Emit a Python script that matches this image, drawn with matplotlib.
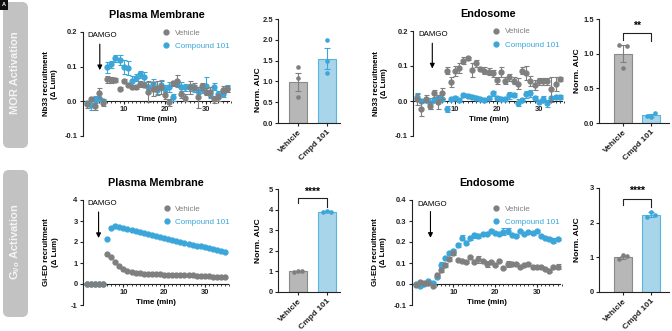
import matplotlib
matplotlib.use("Agg")
import matplotlib.pyplot as plt
from matplotlib.lines import Line2D
from matplotlib.patches import FancyBboxPatch, Rectangle
from matplotlib.ticker import FormatStrFormatter, MultipleLocator

plt.rcParams['font.family'] = ['Liberation Sans', 'DejaVu Sans']
plt.rcParams['axes.unicode_minus'] = False

# ---------------- data ----------------
time_min = list(range(1, 36))

nb33_pm_vehicle = [-0.008, 0.008, -0.014, 0.024, -0.004, 0.063, 0.061, 0.061, 0.037, 0.059,
                   0.046, 0.040, 0.040, 0.050, 0.046, 0.028, 0.035, 0.038, 0.040, 0.017,
                   -0.003, 0.052, 0.060, 0.021, 0.010, 0.040, 0.042, 0.012, 0.044, 0.028,
                   0.027, 0.006, 0.012, 0.033, 0.035]
nb33_pm_vehicle_err = [0.010, 0.005, 0.010, 0.015, 0.010, 0.010, 0.008, 0.005, 0.005, 0.005,
                       0.005, 0.005, 0.005, 0.008, 0.005, 0.030, 0.020, 0.020, 0.020, 0.010,
                       0.010, 0.008, 0.015, 0.010, 0.010, 0.020, 0.010, 0.030, 0.010, 0.010,
                       0.015, 0.010, 0.010, 0.010, 0.008]
nb33_pm_cmpd = [-0.006, -0.012, 0.006, 0.011, 0.000, 0.098, 0.107, 0.124, 0.120, 0.100,
                0.095, 0.058, 0.068, 0.078, 0.071, 0.040, 0.050, 0.032, 0.047, 0.037,
                0.042, 0.012, 0.050, 0.040, 0.040, 0.040, 0.038, 0.030, 0.035, 0.045,
                0.020, 0.042, 0.020, 0.022, 0.038]
nb33_pm_cmpd_err = [0.005, 0.012, 0.008, 0.010, 0.005, 0.015, 0.010, 0.010, 0.015, 0.020,
                    0.020, 0.015, 0.010, 0.010, 0.015, 0.015, 0.015, 0.010, 0.015, 0.010,
                    0.015, 0.010, 0.010, 0.015, 0.010, 0.010, 0.010, 0.010, 0.010, 0.025,
                    0.010, 0.010, 0.010, 0.010, 0.010]

nb33_endo_vehicle = [0.005, -0.023, 0.006, -0.014, 0.022, -0.002, 0.022, 0.086, 0.055, 0.086,
                     0.094, 0.115, 0.122, 0.090, 0.108, 0.091, 0.086, 0.083, 0.079, 0.060,
                     0.083, 0.058, 0.068, 0.058, 0.050, 0.086, 0.081, 0.057, 0.046, 0.057,
                     0.056, 0.057, 0.033, 0.048, 0.063]
nb33_endo_vehicle_err = [0.015, 0.020, 0.010, 0.010, 0.010, 0.020, 0.015, 0.010, 0.015, 0.015,
                         0.015, 0.010, 0.005, 0.020, 0.010, 0.005, 0.010, 0.010, 0.010, 0.010,
                         0.015, 0.010, 0.010, 0.010, 0.015, 0.010, 0.020, 0.015, 0.015, 0.010,
                         0.010, 0.010, 0.035, 0.020, 0.005]
nb33_endo_cmpd = [0.012, 0.000, 0.003, -0.007, 0.003, 0.010, 0.005, -0.022, 0.005, 0.010,
                  0.003, 0.017, 0.015, 0.011, 0.010, 0.005, 0.003, 0.010, 0.022, 0.008,
                  0.006, 0.005, 0.017, 0.017, -0.005, 0.003, 0.019, 0.022, 0.010, -0.002,
                  0.005, -0.007, 0.010, 0.012, 0.011]
nb33_endo_cmpd_err = [0.010, 0.005, 0.005, 0.015, 0.005, 0.005, 0.005, 0.008, 0.005, 0.005,
                      0.005, 0.005, 0.005, 0.005, 0.005, 0.005, 0.005, 0.005, 0.008, 0.005,
                      0.005, 0.005, 0.010, 0.005, 0.010, 0.005, 0.010, 0.010, 0.005, 0.005,
                      0.008, 0.010, 0.005, 0.005, 0.005]

gi_pm_vehicle = [0.0, 0.0, 0.0, 0.0, 0.0, 1.45, 1.29, 1.05, 0.84, 0.70,
                 0.63, 0.57, 0.54, 0.51, 0.49, 0.48, 0.47, 0.46, 0.46, 0.45,
                 0.44, 0.44, 0.43, 0.43, 0.42, 0.44, 0.41, 0.38, 0.37, 0.36,
                 0.36, 0.35, 0.35, 0.35, 0.34]
gi_pm_cmpd = [0.0, 0.0, 0.0, 0.0, 0.0, 2.13, 2.67, 2.75, 2.73, 2.68,
              2.63, 2.58, 2.53, 2.49, 2.44, 2.40, 2.35, 2.30, 2.25, 2.20,
              2.15, 2.11, 2.06, 2.01, 1.97, 1.92, 1.88, 1.83, 1.79, 1.75,
              1.70, 1.66, 1.62, 1.58, 1.53]

gi_endo_vehicle = [-0.006, 0.011, 0.003, 0.006, -0.008, 0.043, 0.067, 0.090, 0.119, 0.146,
                   0.114, 0.111, 0.103, 0.127, 0.106, 0.117, 0.111, 0.094, 0.106, 0.090,
                   0.110, 0.078, 0.095, 0.094, 0.095, 0.083, 0.090, 0.097, 0.079, 0.079,
                   0.083, 0.071, 0.062, 0.083, 0.083]
gi_endo_vehicle_err = [0.005, 0.005, 0.005, 0.005, 0.005, 0.008, 0.010, 0.008, 0.008, 0.010,
                       0.005, 0.005, 0.005, 0.008, 0.005, 0.015, 0.005, 0.015, 0.005, 0.005,
                       0.005, 0.005, 0.015, 0.005, 0.005, 0.005, 0.005, 0.005, 0.008, 0.005,
                       0.005, 0.005, 0.005, 0.005, 0.010]
gi_endo_cmpd = [0.000, -0.008, 0.000, 0.016, 0.003, 0.035, 0.090, 0.122, 0.146, 0.157,
                0.186, 0.221, 0.197, 0.219, 0.232, 0.229, 0.237, 0.237, 0.254, 0.244,
                0.237, 0.250, 0.252, 0.233, 0.230, 0.254, 0.237, 0.246, 0.241, 0.252,
                0.230, 0.217, 0.214, 0.205, 0.214]
gi_endo_cmpd_err = [0.005, 0.008, 0.005, 0.005, 0.005, 0.008, 0.015, 0.005, 0.008, 0.008,
                    0.008, 0.012, 0.008, 0.010, 0.012, 0.008, 0.005, 0.005, 0.008, 0.005,
                    0.005, 0.015, 0.015, 0.005, 0.005, 0.005, 0.005, 0.005, 0.008, 0.005,
                    0.005, 0.005, 0.008, 0.012, 0.005]

bar_labels = ['Vehicle', 'Cmpd 101']

auc_nb33_pm_mean = [0.99, 1.55]
auc_nb33_pm_sem = [0.22, 0.25]
auc_nb33_pm_veh_pts = [1.34, 1.07, 0.63]
auc_nb33_pm_cmpd_pts = [1.99, 1.50, 1.19]

auc_nb33_endo_mean = [1.00, 0.11]
auc_nb33_endo_sem = [0.12, 0.025]
auc_nb33_endo_veh_pts = [1.13, 1.11, 0.79]
auc_nb33_endo_cmpd_pts = [0.10, 0.14, 0.09]

auc_gi_pm_mean = [1.00, 3.90]
auc_gi_pm_sem = [0.02, 0.01]
auc_gi_pm_veh_pts = [0.97, 1.03, 1.00]
auc_gi_pm_cmpd_pts = [3.89, 3.90, 3.91]

auc_gi_endo_mean = [1.00, 2.23]
auc_gi_endo_sem = [0.05, 0.07]
auc_gi_endo_veh_pts = [0.95, 1.04, 1.07]
auc_gi_endo_cmpd_pts = [2.17, 2.22, 2.31]

# ---------------- style ----------------
GRAY = '#7f7f7f'
BLUE = '#3aa6da'
GRAY_BAR = '#b7b7b7'
GRAY_EDGE = '#8a8a8a'
BLUE_BAR = '#a8d5ea'
BLUE_EDGE = '#5ab4de'
AX_COL = '#222222'
TICK_FS = 5.4
LAB_FS = 5.7
MS = 3.5

W, H = 672, 331
fig = plt.figure(figsize=(W / 100, H / 100), dpi=100)


def px_axes(x0, x1, ytop, ybot):
    return fig.add_axes([x0 / W, 1 - ybot / H, (x1 - x0) / W, (ybot - ytop) / H])


def style_common(ax):
    for s in ['top', 'right']:
        ax.spines[s].set_visible(False)
    for s in ['left', 'bottom']:
        ax.spines[s].set_color(AX_COL)
        ax.spines[s].set_linewidth(0.8)
    ax.tick_params(axis='both', which='both', colors=AX_COL, width=0.8, labelsize=TICK_FS,
                   length=2.2, pad=1.5)
    for lab in ax.get_xticklabels() + ax.get_yticklabels():
        lab.set_fontweight('bold')


def time_panel(ax, veh, cmpd, veh_err, cmpd_err, ylim, yticks, fmt, ylabel, title,
               arrow, text_xy, leg_anchor, ylab_x):
    if cmpd_err is not None:
        ax.errorbar(time_min, cmpd, yerr=cmpd_err, fmt='o', ms=MS, color=BLUE,
                    ecolor=BLUE, elinewidth=0.8, capsize=1.8, capthick=0.8, zorder=3)
        ax.errorbar(time_min, veh, yerr=veh_err, fmt='o', ms=MS, color=GRAY,
                    ecolor=GRAY, elinewidth=0.8, capsize=1.8, capthick=0.8, zorder=4)
    else:
        ax.plot(time_min, cmpd, 'o', ms=MS, color=BLUE, zorder=3)
        ax.plot(time_min, veh, 'o', ms=MS, color=GRAY, zorder=4)
    ax.set_xlim(0, 36)
    ax.set_ylim(*ylim)
    ax.spines['bottom'].set_position(('data', 0))
    ax.spines['bottom'].set_bounds(0, 35.6)
    ax.set_yticks(yticks)
    ax.yaxis.set_major_formatter(FormatStrFormatter(fmt))
    ax.set_xticks([10, 20, 30])
    ax.xaxis.set_minor_locator(MultipleLocator(1))
    style_common(ax)
    ax.tick_params(axis='x', which='minor', length=1.6, width=0.6)
    ax.set_xlabel('Time (min)', fontsize=LAB_FS, fontweight='bold', labelpad=2)
    ax.set_ylabel(ylabel, fontsize=LAB_FS, fontweight='bold', linespacing=1.25)
    ax.yaxis.set_label_coords(ylab_x, 0.5)
    ax.set_title(title, fontsize=7.8, fontweight='bold', pad=10)
    ax_x, y0, y1 = arrow
    ax.annotate('', xy=(ax_x, y1), xytext=(ax_x, y0),
                arrowprops=dict(arrowstyle='-|>', color='black', lw=0.8, mutation_scale=7,
                                shrinkA=0, shrinkB=0))
    ax.text(text_xy[0], text_xy[1], 'DAMGO', fontsize=5.7, va='center', ha='left')
    handles = [Line2D([], [], ls='none', marker='o', ms=MS, color=GRAY),
               Line2D([], [], ls='none', marker='o', ms=MS, color=BLUE)]
    ax.legend(handles, ['Vehicle', 'Compound 101'], loc='upper left',
              bbox_to_anchor=leg_anchor, frameon=False, fontsize=5.8,
              labelcolor=[GRAY, BLUE], handlelength=1.0, handletextpad=0.6,
              labelspacing=0.7, borderpad=0, borderaxespad=0)


def bar_panel(ax, means, sems, veh_pts, cmpd_pts, xlim, ylim, yticks, fmt, ylab_y,
              sig=None, offs=(-0.15, 0.15, 0.0)):
    xs = [0, 1]
    ax.bar(xs, means, width=0.62, color=[GRAY_BAR, BLUE_BAR],
           edgecolor=[GRAY_EDGE, BLUE_EDGE], linewidth=0.8, zorder=2)
    for x, m, s, c in zip(xs, means, sems, [GRAY, BLUE]):
        ax.errorbar([x], [m], yerr=[s], fmt='none', ecolor=c, elinewidth=0.8,
                    capsize=2.2, capthick=0.8, zorder=3)
    ax.plot([0 + o for o in offs], veh_pts, 'o', ms=2.3, color=GRAY, zorder=4)
    ax.plot([1 + o for o in offs], cmpd_pts, 'o', ms=2.3, color=BLUE, zorder=4)
    ax.set_xlim(*xlim)
    ax.set_ylim(*ylim)
    ax.set_yticks(yticks)
    ax.yaxis.set_major_formatter(FormatStrFormatter(fmt))
    ax.set_xticks(xs)
    ax.set_xticklabels(bar_labels, rotation=45, ha='right', rotation_mode='anchor')
    style_common(ax)
    ax.tick_params(axis='x', length=2.2, pad=2, labelsize=6.0)
    ax.set_ylabel('Norm. AUC', fontsize=6.0, fontweight='bold')
    ax.yaxis.set_label_coords(-0.26, ylab_y)
    if sig is not None:
        yb, yl, yr, ys, txt = sig
        ax.plot([0, 0, 1, 1], [yl, yb, yb, yr], color=AX_COL, lw=0.8, clip_on=False)
        ax.text(0.5, ys, txt, ha='center', va='center', fontsize=7.5, fontweight='bold',
                clip_on=False)


# ---- top row ----
ax1 = px_axes(82.5, 230.8, 32, 136)
time_panel(ax1, nb33_pm_vehicle, nb33_pm_cmpd, nb33_pm_vehicle_err, nb33_pm_cmpd_err,
           (-0.1, 0.2), [-0.1, 0.0, 0.1, 0.2], '%.1f', 'Nb33 recruitment\n(\u0394 Lum)',
           'Plasma Membrane', (4.2, 0.165, 0.09), (1.2, 0.19), (0.535, 1.03), -0.165)

ax2 = px_axes(278, 340, 19, 123)
bar_panel(ax2, auc_nb33_pm_mean, auc_nb33_pm_sem, auc_nb33_pm_veh_pts, auc_nb33_pm_cmpd_pts,
          (-0.69, 1.45), (0, 2.5), [0, 0.5, 1.0, 1.5, 2.0, 2.5], '%.1f', 0.32,
          offs=(0.0, 0.0, 0.0))

ax3 = px_axes(413, 564, 31, 136)
time_panel(ax3, nb33_endo_vehicle, nb33_endo_cmpd, nb33_endo_vehicle_err, nb33_endo_cmpd_err,
           (-0.1, 0.2), [-0.1, 0.0, 0.1, 0.2], '%.1f', 'Nb33 recruitment\n(\u0394 Lum)',
           'Endosome', (4.6, 0.165, 0.093), (1.35, 0.19), (0.525, 1.03), -0.165)

ax4 = px_axes(599, 669, 19, 123)
bar_panel(ax4, auc_nb33_endo_mean, auc_nb33_endo_sem, auc_nb33_endo_veh_pts,
          auc_nb33_endo_cmpd_pts, (-0.86, 1.64), (0, 1.5), [0, 0.5, 1.0, 1.5], '%.1f', 0.5,
          sig=(1.30, 1.19, 1.18, 1.40, '**'))

# ---- bottom row ----
ax5 = px_axes(82.7, 229.2, 200, 305)
time_panel(ax5, gi_pm_vehicle, gi_pm_cmpd, None, None,
           (-1, 4), [-1, 0, 1, 2, 3, 4], '%d', 'Gi-ED recruitment\n(\u0394 Lum)',
           'Plasma Membrane', (3.9, 3.43, 2.19), (1.15, 3.83), (0.545, 0.95), -0.165)

ax6 = px_axes(278, 340, 189, 292)
bar_panel(ax6, auc_gi_pm_mean, auc_gi_pm_sem, auc_gi_pm_veh_pts, auc_gi_pm_cmpd_pts,
          (-0.69, 1.45), (0, 5), [0, 1, 2, 3, 4, 5], '%d', 0.5,
          sig=(4.55, 4.30, 4.15, 4.87, '****'))

ax7 = px_axes(411.7, 561.8, 200, 305)
time_panel(ax7, gi_endo_vehicle, gi_endo_cmpd, gi_endo_vehicle_err, gi_endo_cmpd_err,
           (-0.1, 0.4), [-0.1, 0.0, 0.1, 0.2, 0.3, 0.4], '%.1f', 'Gi-ED recruitment\n(\u0394 Lum)',
           'Endosome', (4.5, 0.345, 0.22), (1.3, 0.38), (0.535, 0.95), -0.165)

ax8 = px_axes(599, 669, 188, 292)
bar_panel(ax8, auc_gi_endo_mean, auc_gi_endo_sem, auc_gi_endo_veh_pts, auc_gi_endo_cmpd_pts,
          (-0.86, 1.64), (0, 3), [0, 1, 2, 3], '%d', 0.5,
          sig=(2.69, 2.52, 2.45, 2.93, '****'))

# ---- side label boxes ----
BOX = '#c2c2c2'
for (ytop, ybot, label) in [(2, 148, 'MOR Activation'),
                            (170, 317, r'G$_{\mathregular{i/o}}$ Activation')]:
    box = FancyBboxPatch((3 / 100, (H - ybot) / 100), 25 / 100, (ybot - ytop) / 100,
                         boxstyle='round,pad=0,rounding_size=0.06',
                         transform=fig.dpi_scale_trans, facecolor=BOX, edgecolor='none')
    fig.patches.append(box)
    fig.text(15.5 / W, 1 - ((ytop + ybot) / 2 - 2) / H, label, rotation=90, ha='center',
             va='center', color='#f4f4f4', fontsize=8, fontweight='bold')

# tiny badge at top-left
fig.patches.append(Rectangle((0, (H - 10) / 100), 0.08, 0.10, transform=fig.dpi_scale_trans,
                             facecolor='#111111', edgecolor='none'))
fig.text(4 / W, 1 - 5 / H, 'A', color='white', fontsize=4, fontweight='bold',
         ha='center', va='center')

fig.savefig('out.png', dpi=100)
